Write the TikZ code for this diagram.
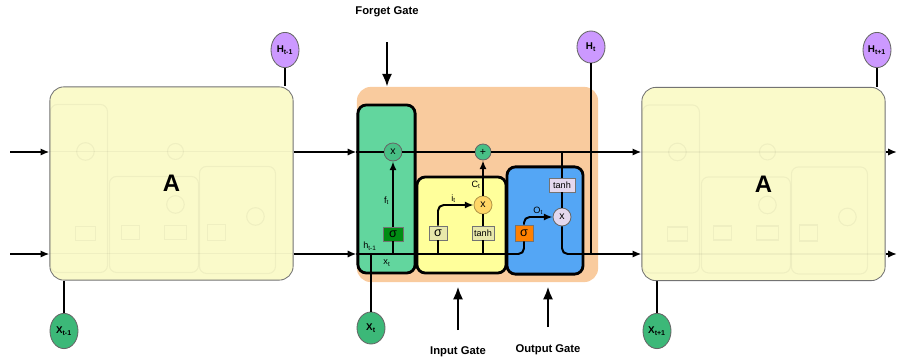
\documentclass[tikz,border=0pt]{standalone}
\usepackage{fontspec}
\setmainfont{Liberation Sans}
\setsansfont{Liberation Sans}
\usetikzlibrary{shapes.geometric,arrows.meta,positioning,calc,backgrounds}

\definecolor{cellyellow}{RGB}{250,250,202}
\definecolor{cellorange}{RGB}{249,203,158}
\definecolor{forgetgreen}{RGB}{98,214,158}
\definecolor{opgreen}{RGB}{72,192,134}
\definecolor{siggreen}{RGB}{0,140,20}
\definecolor{inputyellow}{RGB}{255,255,155}
\definecolor{actbeige}{RGB}{232,232,170}
\definecolor{opgold}{RGB}{255,214,102}
\definecolor{outputblue}{RGB}{84,166,245}
\definecolor{sigorange}{RGB}{255,128,0}
\definecolor{lavender}{RGB}{228,216,238}
\definecolor{hpurple}{RGB}{204,153,255}
\definecolor{xgreen}{RGB}{60,184,120}

\tikzset{
    ghost/.pic={
        \begin{scope}[draw=black, opacity=0.045, line width=0.8pt]
            \draw[rounded corners=5pt] (1,18) rectangle (58,186);
            \draw[rounded corners=5pt] (60,90) rectangle (149,186);
            \draw[rounded corners=5pt] (150,80) rectangle (226,187);
            \draw (0,65) -- (243,65);
            \draw (0,167) -- (243,167);
            \draw (36,65) circle[radius=0.22cm];
            \draw (126,65) circle[radius=0.2cm];
            \draw (126,118) circle[radius=0.22cm];
            \draw (206,130) circle[radius=0.22cm];
            \draw (36,147) ++(-10,-7) rectangle ++(20,14);
            \draw (81,146) ++(-9,-7) rectangle ++(18,14);
            \draw (126,146) ++(-11,-7) rectangle ++(22,14);
            \draw (167,146) ++(-9,-8) rectangle ++(18,16);
        \end{scope}
    }
}

\begin{document}
\begin{tikzpicture}[
    x=0.025cm, y=-0.025cm,
    font=\sffamily,
    cellbox/.style={draw=black!55, line width=0.6pt, fill=cellyellow, rounded corners=10pt, minimum width=6.08cm, minimum height=4.83cm, inner sep=0pt, font=\fontsize{17}{20}\selectfont\bfseries},
    lstmbox/.style={fill=cellorange, rounded corners=10pt, minimum width=6.03cm, minimum height=4.88cm, inner sep=0pt},
    gatebox/.style={draw=black, line width=2pt, rounded corners=6pt, inner sep=0pt},
    opnode/.style={circle, draw=black!60, line width=0.6pt, minimum size=0.45cm, inner sep=0pt, font=\fontsize{7.5}{8}\selectfont},
    actbox/.style={draw=black!55, line width=0.6pt, minimum height=0.35cm, inner sep=0pt, font=\fontsize{6.5}{7}\selectfont},
    state/.style={ellipse, draw=black!60, line width=0.6pt, minimum width=0.7cm, minimum height=0.88cm, inner sep=0pt, font=\fontsize{7}{8}\selectfont\bfseries},
    wire/.style={line width=1.4pt},
    flow/.style={wire, -{Latex[length=2.2mm, width=1.8mm]}},
    gatearrow/.style={line width=1.8pt, -{Latex[length=3.2mm, width=2.6mm]}},
    gatelabel/.style={font=\fontsize{8}{9}\selectfont\bfseries},
    lbl/.style={font=\fontsize{6.5}{7}\selectfont, inner sep=1pt}
]
    \useasboundingbox (0,0) rectangle (897,362);

    % Entrees et sorties de la chaine
    \coordinate (inTop) at (10,152);
    \coordinate (inBot) at (10,254);
    \coordinate (outTop) at (897,152);
    \coordinate (outBot) at (897,254);

    % Cellules voisines
    \node[cellbox] (A1) at (171.5,183.5) {A};
    \node[cellbox] (A2) at (763.5,184) {A};
    \pic at (A1.north west) {ghost};
    \pic at (A2.north west) {ghost};

    % Cellule LSTM detaillee
    \node[lstmbox] (cell) at (477.5,184.5) {};
    \node[gatebox, fill=forgetgreen, minimum width=1.43cm, minimum height=4.2cm] (fgate) at (386.5,189) {};
    \node[gatebox, fill=inputyellow, minimum width=2.23cm, minimum height=2.4cm] (igate) at (461.5,225) {};
    \node[gatebox, fill=outputblue, minimum width=1.9cm, minimum height=2.68cm] (ogate) at (545,220.5) {};

    % Etats caches et entrees
    \node[state, fill=hpurple] (Ht1) at (285,50) {H\textsubscript{t-1}};
    \node[state, fill=hpurple, minimum height=0.8cm] (Ht) at (591,47) {H\textsubscript{t}};
    \node[state, fill=hpurple] (Ht2) at (877,50) {H\textsubscript{t+1}};
    \node[state, fill=xgreen] (Xt1) at (64,331) {X\textsubscript{t-1}};
    \node[state, fill=xgreen, minimum height=0.8cm] (Xt) at (371,328) {X\textsubscript{t}};
    \node[state, fill=xgreen] (Xt2) at (657,331) {X\textsubscript{t+1}};

    % Operations
    \node[opnode, fill=opgreen] (fmul) at (393,152) {x};
    \node[opnode, fill=opgreen, minimum size=0.4cm] (plus) at (483,152) {+};
    \node[opnode, fill=opgold, draw=opgold!70!black] (imul) at (483,205) {x};
    \node[opnode, fill=lavender] (omul) at (562,217) {x};

    \node[actbox, fill=siggreen, minimum width=0.5cm, font=\fontsize{9}{9}\selectfont] (fsig) at (393,234) {σ};
    \node[actbox, fill=actbeige, minimum width=0.45cm, font=\fontsize{9}{9}\selectfont] (isig) at (438,233) {σ};
    \node[actbox, fill=actbeige, minimum width=0.55cm] (itanh) at (483,233) {tanh};
    \node[actbox, fill=sigorange, minimum width=0.45cm, minimum height=0.4cm, font=\fontsize{9}{9}\selectfont] (osig) at (524,233) {σ};
    \node[actbox, fill=lavender, minimum width=0.65cm] (otanh) at (562,185) {tanh};

    % Libelles internes
    \node[lbl] (hlbl) at (370,246) {h\textsubscript{t-1}};
    \node[lbl] (xlbl) at (387,263) {x\textsubscript{t}};

    % Portes
    \node[gatelabel] (flbl) at (387,12) {Forget Gate};
    \node[gatelabel] (ilbl) at (458,352) {Input Gate};
    \node[gatelabel] (olbl) at (548,350) {Output Gate};
    \coordinate (ftail) at (387,42);
    \coordinate (itail) at (458,330);
    \coordinate (otail) at (548,327);

    % Liens vers les cellules voisines
    \begin{pgfonlayer}{background}
        \draw[wire, line width=1pt] (Ht1.south) -- (Ht1.south |- A1.north);
        \draw[wire, line width=1pt] (Xt1.north) -- (Xt1.north |- A1.south);
        \draw[wire, line width=1pt] (Ht2.south) -- (Ht2.south |- A2.north);
        \draw[wire, line width=1pt] (Xt2.north) -- (Xt2.north |- A2.south);
    \end{pgfonlayer}
    \draw[flow] (inTop) -- (inTop -| A1.west);
    \draw[flow] (inBot) -- (inBot -| A1.west);
    \draw[flow] (A1.east |- inTop) -- (fgate.west |- inTop);
    \draw[flow] (A1.east |- inBot) -- (fgate.west |- inBot);
    \draw[flow] (A2.east |- inTop) -- (outTop);
    \draw[flow] (A2.east |- inBot) -- (outBot);

    % Etat de la cellule
    \draw[wire] (fgate.west |- inTop) -- (fmul.west);
    \draw[wire] (fmul.east) -- (plus.west);
    \draw[flow] (plus.east) -- (A2.west |- plus);

    % Entree h(t-1), x(t)
    \draw[wire, rounded corners=4pt] (fgate.west |- inBot) -- (osig.south |- inBot) -- (osig.south);
    \draw[wire] (Xt.north) -- (Xt.north |- inBot);

    % Porte d'oubli
    \draw[wire] (fsig.south |- inBot) -- (fsig.south);
    \draw[flow] (fsig.north) -- node[lbl, pos=0.4, left=1pt] {f\textsubscript{t}} (fmul.south);

    % Porte d'entree
    \draw[wire] (isig.south |- inBot) -- (isig.south);
    \draw[wire] (itanh.south |- inBot) -- (itanh.south);
    \draw[flow, rounded corners=4pt] (isig.north) |- node[lbl, pos=0.72, above] {i\textsubscript{t}} (imul.west);
    \draw[wire] (itanh.north) -- (imul.south);
    \draw[flow] (imul.north) -- node[lbl, pos=0.3, left=0pt] {C\textsubscript{t}} (plus.south);

    % Porte de sortie
    \draw[flow, rounded corners=4pt] (osig.north) |- node[lbl, pos=0.75, above] {O\textsubscript{t}} (omul.west);
    \draw[wire] (otanh.north |- plus) -- (otanh.north);
    \draw[wire] (otanh.south) -- (omul.north);
    \draw[flow, rounded corners=4pt] (omul.south) |- (A2.west |- inBot);
    \draw[wire] (Ht.south) -- (Ht.south |- inBot);

    % Fleches des portes
    \draw[gatearrow] (ftail) -- (ftail |- cell.north);
    \draw[gatearrow, shorten >=3pt] (itail) -- (itail |- cell.south);
    \draw[gatearrow, shorten >=3pt] (otail) -- (otail |- cell.south);

\end{tikzpicture}
\end{document}
